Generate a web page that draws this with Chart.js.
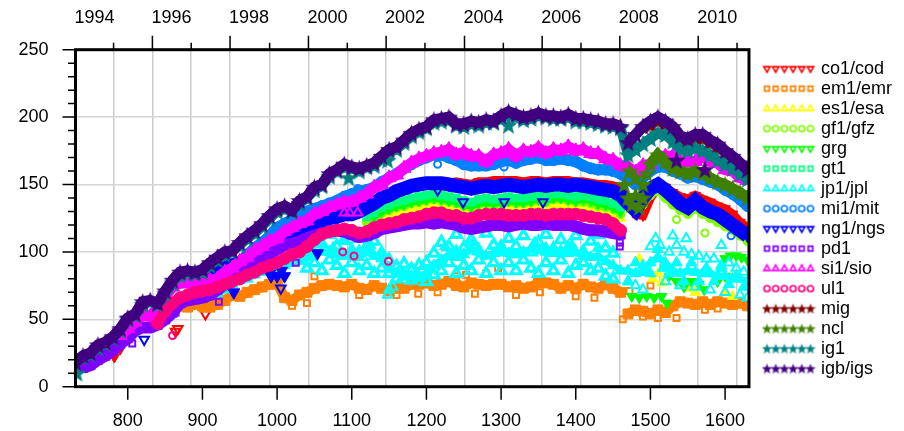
<!DOCTYPE html>
<html>
<head>
<meta charset="utf-8">
<style>
  html, body { margin: 0; padding: 0; background: #fff; }
  canvas { display: block; }
</style>
<script src="https://cdn.jsdelivr.net/npm/chart.js@4/dist/chart.umd.js"></script>
</head>
<body>
<canvas id="chart" width="904" height="431"></canvas>
<script>
// GPS weeks the bands are read at
const weeks = [
  730,740,750,760,770,780,790,800,810,820,
  830,840,850,860,870,880,890,900,910,920,
  930,940,950,960,970,980,990,1000,1010,1020,
  1030,1040,1050,1060,1070,1080,1090,1100,1110,1120,
  1130,1140,1150,1160,1170,1180,1190,1200,1210,1220,
  1230,1240,1250,1260,1270,1280,1290,1300,1310,1320,
  1330,1340,1350,1360,1370,1380,1390,1400,1410,1420,
  1430,1440,1450,1460,1470,1480,1490,1500,1510,1520,
  1530,1540,1550,1560,1570,1580,1590,1600,1610,1620,
  1630
];

const bottomTicks = [800, 900, 1000, 1100, 1200, 1300, 1400, 1500, 1600];
const yearWeeks = [730, 781, 833, 885, 937, 990, 1042, 1094, 1146, 1198, 1251, 1303, 1355, 1407, 1459, 1512, 1564, 1616];
const yearLabels = ["1994", "", "1996", "", "1998", "", "2000", "", "2002", "", "2004", "", "2006", "", "2008", "", "2010", ""];

// co1/cod
const co1Vals = [
  107,111,115,119,121,123,124,126,127,129,129,131,134,137,141,143,146,148,150,151,
  152,152,152,151,152,151,150,152,152,153,153,153,153,152,153,153,152,153,153,153,
  152,152,151,150,150,149,146,140,128,127,140,148,148,144,141,139,142,139,137,134,
  132,128,122,118
];
const co1Spots = [[782, 22], [790, 28]];
const co1Out = [[867, 43], [864, 41], [904, 54], [911, 60]];

// em1/emr
const em1Vals = [
  60,59,61,60,59,61,64,68,67,70,72,74,76,77,66,64,68,70,73,75,
  76,75,74,76,73,72,75,73,71,73,73,76,76,77,75,76,78,75,74,77,
  76,75,76,76,74,75,73,74,77,77,76,73,75,73,76,74,73,76,73,70
];
const em1Late = [54,57,56,54,57,55,60,63,62,61,63,61,63,62,61,62,60];
const em1Out = [
  [1296, 88], [1253, 83], [1189, 69], [1110, 68], [1352, 70], [1472, 71], [1500, 75], [1463, 50], [1490, 52], [1510, 51],
  [1535, 51], [1573, 57], [1590, 58], [1020, 60], [1040, 62], [900, 58], [1280, 84], [1240, 82], [1320, 68], [1400, 67],
  [1050, 82], [1160, 68], [1215, 70], [1265, 69], [1425, 66]
];

// es1/esa
const es1Vals = [
  121,125,127,129,130,132,133,134,135,134,133,133,130,130,132,133,132,132,133,132,
  133,134,134,133,135,135,133,132,132,131,130,129,128,125
];
const es1Spots = [[1485, 95], [1497, 86], [1503, 80], [1510, 84], [1515, 77], [1553, 73], [1560, 70], [1600, 70], [1610, 67]];

// gf1/gfz
const gf1Vals = [
  122,125,129,131,133,134,136,137,138,139,138,137,136,134,133,135,136,135,136,137,
  136,136,137,138,137,139,139,138,137,137,136,134,133,132,128
];
const gf1Late = [135,142,145,140,135,131,128,132,128,125,122,119,116,112,108];
const gf1Out = [[1535, 124], [1573, 114]];

// grg
const grgVals = [
  126,130,132,134,135,137,138,139,140,139,138,137,135,134,136,137,136,137,138,137,
  137,138,139,138,140,140,139,138,139,138,136,135,133,130
];
const grgSpots = [
  [1475, 67], [1485, 66], [1495, 67], [1505, 66], [1515, 67], [1522, 62],
  [1525, 82], [1535, 78], [1545, 74], [1555, 78], [1565, 76], [1572, 72],
  [1590, 78], [1600, 82], [1600, 95], [1607, 97], [1615, 97], [1622, 96], [1630, 94]
];

// gt1
const gt1Vals = [
  126,129,133,135,137,138,140,141,142,143,142,141,140,138,137,139,140,139,140,141,
  140,140,141,142,141,143,143,142,141,142,141,139,138,136,133
];

// jp1/jpl
const jp1Vals = [
  64,65,66,67,69,72,76,79,80,83,85,87,88,90,92,93,96,99,100,100,
  98,97,98,96,100,97,95,88,84,83,82,82,84,90,94,98,96,98,102,100,
  97,99,102,99,98,100,102,101,100,99,101,99,100,97,96,97,93,90,86,86,
  84,85,92,96,92,86,84,86,85,84,84,82,82,80,80,78
];
const jp1High = [
  103,112,106,113,104,109,101,110,104,108,99,94,89,91,87,90,92,99,107,104,
  113,103,109,101,114,105,100,110,104,112,100,107,113,102,109,103,112,100,108,113,
  103,99
];
const jp1Low = [
  88,92,86,94,90,84,92,86,90,84,88,84,80,82,79,81,78,83,86,92,
  84,90,86,94,84,92,86,92,86,94,88,84,92,86,94,84,90,92,86,88,
  82,80
];
const jp1Spots = [
  [1060, 106], [1075, 103], [1090, 108], [1110, 101], [1125, 105], [1140, 99], [1225, 104], [1240, 101],
  [1262, 107], [1300, 105], [1345, 107], [1360, 103], [1395, 105], [1430, 103],
  [1470, 78], [1480, 92], [1490, 90], [1500, 84], [1510, 102], [1517, 88], [1525, 84], [1535, 92], [1545, 78],
  [1555, 92], [1565, 78], [1575, 88], [1585, 78], [1595, 88], [1605, 76], [1615, 82], [1625, 74]
];
const jp1Out = [
  [1150, 72], [1148, 68], [1155, 74], [1470, 78], [1480, 75], [1490, 72], [1500, 104], [1507, 110], [1513, 105],
  [1520, 78], [1525, 100], [1530, 112], [1535, 105], [1540, 75], [1545, 100], [1548, 110], [1555, 98], [1560, 74],
  [1565, 97], [1575, 95], [1580, 72], [1585, 95], [1595, 90], [1595, 105], [1600, 70], [1605, 92], [1615, 88],
  [1620, 68], [1625, 85], [1630, 66]
];

// mi1/mit
const mi1Vals = [
  85,92,98,103,107,112,118,121,124,128,130,132,134,136,138,141,143,145,146,148,
  152,155,158,162,165,168,170,172,172,170,168,165,164,164,164,165,167,168,166,168,
  169,170,168,168,169,168,167,164,162,161,161,160,158,154,150,155,160,163,163,160,
  158,155,156,154,152,150,146,143,139,134
];
const mi1Out = [[1108, 147], [1061, 135], [1215, 165], [1304, 163], [1340, 170], [1374, 170], [1608, 112]];

// ng1/ngs
const ng1Vals = [
  78,79,80,81,82,85,88,90,92,95,97,100,103,106,110,114,118,120,122,123,
  125,126,128,128,130,133,136,140,142,145,147,149,150,151,151,151,150,149,148,147,
  148,149,148,149,150,149,148,149,150,149,150,150,149,150,149,148,147,146,145,142,
  136,131,140,147,150,146,141,136,133,138,133,130,128,124,120,116,112
];
const ng1Spots = [[942, 70], [990, 84], [992, 82], [1000, 82], [1006, 86], [1010, 82], [1054, 99]];
const ng1Out = [[822, 35], [1005, 73], [1249, 137], [1304, 137], [1356, 137], [1215, 146]];

// pd1
const pd1Vals = [
  14,16,20,23,27,32,36,42,44,44,46,50,55,62,64,65,66,68,72,76,
  80,84,87,90,95,98,102,105,106,108,110,112,114,115,116,115,113,111,112,114,
  117,118,119,120,121,121,122,121,122,121,120,118,117,118,119,120,120,119,120,121,
  120,120,121,120,120,120,119,117,116,116,115,114,113
];
const pd1Out = [[1459, 107], [1459, 104], [806, 32], [922, 63], [864, 55], [1025, 92]];

// si1/sio
const si1Vals = [
  38,43,48,54,52,58,67,74,77,77,75,76,79,80,85,88,93,96,101,104,
  108,110,115,118,121,123,128,130,133,135,137,137,140,143,148,150,155,157,162,166,
  169,171,173,174,176,172,174,171,171,167,172,173,176,171,175,174,177,173,176,175,
  178,175,176,173,173,169,168,164,163,159,164,165,171,171,171,167,167,167,171,167,
  166,161,160,155,153
];
const si1Out = [[1474, 176], [1090, 129], [1097, 129], [1108, 129]];

// ul1
const ul1Vals = [
  47,56,62,66,68,70,71,72,74,76,78,80,83,85,88,90,92,95,98,100,
  104,109,113,115,116,117,116,114,115,118,120,121,122,124,125,126,128,129,129,127,
  127,125,125,127,128,128,128,127,127,127,128,128,127,128,128,128,128,127,126,125,
  124,121,116
];
const ul1Out = [[860, 38], [1088, 100], [1103, 97], [1149, 93]];

// mig
const migVals = [194,197,195,190,184,181,185,184,181,177,173,168,164,159];

// ncl
const nclVals = [165,172,167,162,160,158,160,158,155,152,150,147,144,140];
const nclSpots = [[1465, 150], [1470, 140], [1475, 135], [1480, 155], [1480, 142], [1485, 133], [1490, 150], [1490, 140], [1495, 158], [1472, 160]];

// ig1
const ig1Vals = [
  17,22,24,29,32,36,42,50,53,61,63,61,69,77,83,84,84,85,90,94,
  98,100,105,110,114,119,125,130,132,130,136,140,146,149,156,160,163,162,160,163,
  164,169,174,176,181,186,189,192,196,197,198,194,193,195,194,196,196,199,202,200,
  198,199,201,200,199,199,200,197,197,196,195,194,193,192,172,176,180,184,188,187,
  182,176,175,177,175,172,168,165,162,158,154
];
const ig1Spots = [[732, 10], [1096, 155], [1148, 168], [1310, 194]];

// igb/igs
const igbVals = [
  18,23,25,31,33,37,43,51,54,63,64,62,71,79,85,86,85,87,92,96,
  100,101,107,112,116,121,127,132,134,131,138,141,148,150,158,161,165,163,162,164,
  166,171,176,178,183,188,191,193,198,199,200,195,195,197,196,198,197,201,204,202,
  200,201,203,201,201,200,202,199,199,198,197,195,195,193
];
const igbLate = [181,187,193,197,200,197,193,186,184,187,187,183,180,175,171,166,161];
const igbSpots = [[1535, 168], [1573, 161]];

const FONT = "'Liberation Sans', Helvetica, Arial, sans-serif";

// label, colour, marker, rotation, radius, line width, runs [first week, values], filled spots, hollow outliers
const seriesTable = [
  ["co1/cod", "#ff0000", "triangle", 180, 6, 9, [[1000, co1Vals]], co1Spots, co1Out],
  ["em1/emr", "#ff8000", "rect", 0, 7, 10, [[870, em1Vals], [1470, em1Late]], [], em1Out],
  ["es1/esa", "#ffff00", "triangle", 0, 6, 7, [[1130, es1Vals]], es1Spots, []],
  ["gf1/gfz", "#80ff00", "circle", 0, 4.5, 7, [[1120, gf1Vals], [1490, gf1Late]], [], gf1Out],
  ["grg", "#00ff00", "triangle", 180, 6, 7, [[1130, grgVals]], grgSpots, []],
  ["gt1", "#00ff80", "rect", 0, 5.5, 7, [[1120, gt1Vals]], [], []],
  ["jp1/jpl", "#00ffff", "triangle", 0, 6.5, 7, [[880, jp1Vals]], jp1Spots, jp1Out],
  ["mi1/mit", "#0080ff", "circle", 0, 5.5, 11, [[940, mi1Vals]], [], mi1Out],
  ["ng1/ngs", "#0000ff", "triangle", 180, 7, 14, [[870, ng1Vals]], ng1Spots, ng1Out],
  ["pd1", "#8000ff", "rect", 0, 6.5, 12, [[740, pd1Vals]], [], pd1Out],
  ["si1/sio", "#ff00ff", "triangle", 0, 8, 11, [[790, si1Vals]], [], si1Out],
  ["ul1", "#ff0080", "circle", 0, 6, 11, [[840, ul1Vals]], [], ul1Out],
  ["mig", "#800000", "star", 0, 7, 8, [[1500, migVals]], [], []],
  ["ncl", "#408000", "star", 0, 7, 11, [[1500, nclVals]], nclSpots, []],
  ["ig1", "#008080", "star", 0, 7, 10, [[730, ig1Vals]], ig1Spots, []],
  ["igb/igs", "#400080", "star", 0, 7, 11, [[730, igbVals], [1470, igbLate]], igbSpots, []]
];

function fromWeek(first, vals) {
  const start = weeks.indexOf(first);
  return vals.map((y, i) => ({ x: weeks[start + i], y }));
}

function fromPairs(pairs) {
  return pairs.map(p => ({ x: p[0], y: p[1] }));
}

function makeStar(color, size) {
  const c = document.createElement("canvas");
  c.width = size;
  c.height = size;
  const g = c.getContext("2d");
  g.fillStyle = color;
  g.beginPath();
  for (let i = 0; i < 10; i++) {
    const r = (i % 2 ? 0.42 : 1) * size / 2;
    const a = -Math.PI / 2 + i * Math.PI / 5;
    g.lineTo(size / 2 + r * Math.cos(a), size / 2 + r * Math.sin(a) + size * 0.04);
  }
  g.closePath();
  g.fill();
  return c;
}

// the legend key is a row of six markers
function makeKey(row) {
  const c = document.createElement("canvas");
  c.width = 72;
  c.height = 14;
  const g = c.getContext("2d");
  const [, color, shape, rot] = row;
  for (let i = 0; i < 6; i++) {
    const cx = 21.5 + i * 8.7;
    if (shape === "star") {
      g.drawImage(makeStar(color, 11), cx - 5.5, 1.5);
    } else {
      g.strokeStyle = color;
      g.fillStyle = "rgba(0,0,0,0)";
      g.lineWidth = 1.7;
      const radius = shape === "circle" ? 3 : shape === "rect" ? 3.3 : 3.6;
      Chart.helpers.drawPoint(g, { pointStyle: shape, rotation: rot, radius, borderWidth: 1.7 }, cx, 7);
    }
  }
  return c;
}

const datasets = [];
seriesTable.forEach((row, idx) => {
  const [label, color, shape, rot, radius, lineW, runs, spots, outs] = row;
  const marker = shape === "star" ? makeStar(color, 19) : shape;
  const base = { label, borderColor: color, pointBorderColor: color, pointStyle: marker, pointRotation: rot,
                 pointRadius: radius, clip: 0, order: 100 - idx, tension: 0 };
  runs.forEach(r => {
    datasets.push({ ...base, data: fromWeek(r[0], r[1]), borderWidth: lineW, showLine: true,
                    pointBackgroundColor: color, pointBorderWidth: 1 });
  });
  if (spots.length) {
    datasets.push({ ...base, data: fromPairs(spots), showLine: false, pointBackgroundColor: color, pointBorderWidth: 1 });
  }
  if (label === "jp1/jpl") {
    datasets.push({ ...base, data: fromWeek(1040, jp1High), showLine: false, pointBackgroundColor: "rgba(0,0,0,0)", pointBorderWidth: 3.2, pointRadius: 6 });
    datasets.push({ ...base, data: fromWeek(1040, jp1Low), showLine: false, pointBackgroundColor: "rgba(0,0,0,0)", pointBorderWidth: 3.2, pointRadius: 6 });
  }
  if (outs.length) {
    datasets.push({ ...base, data: fromPairs(outs), showLine: false, pointBackgroundColor: "rgba(0,0,0,0)", pointBorderWidth: 2,
                    pointRadius: shape === "circle" ? 3.5 : shape === "rect" ? 4.2 : 5.5 });
  }
});

// frame and tick marks of the plot box
const frameTicks = {
  id: "frameTicks",
  afterDraw(chart) {
    const { ctx, chartArea: a, scales } = chart;
    ctx.save();
    ctx.strokeStyle = "#000";
    ctx.lineWidth = 1.5;
    ctx.beginPath();
    for (let v = 0; v <= 250; v += 10) {
      const y = scales.y.getPixelForValue(v);
      ctx.moveTo(a.left - (v % 50 === 0 ? 13 : 7.5), y);
      ctx.lineTo(a.left, y);
    }
    bottomTicks.forEach(v => {
      const x = scales.x.getPixelForValue(v);
      ctx.moveTo(x, a.bottom);
      ctx.lineTo(x, a.bottom + 13);
    });
    yearWeeks.forEach((v, i) => {
      if (i === 0) return;
      const x = scales.x2.getPixelForValue(v);
      ctx.moveTo(x, a.top);
      ctx.lineTo(x, a.top - (i % 2 === 0 ? 14 : 7));
    });
    ctx.stroke();
    ctx.lineWidth = 3;
    ctx.strokeRect(a.left, a.top, a.right - a.left, a.bottom - a.top);
    ctx.restore();
  }
};

new Chart(document.getElementById("chart"), {
  type: "line",
  data: { datasets },
  plugins: [frameTicks],
  options: {
    responsive: false,
    animation: false,
    layout: { padding: { right: 2 } },
    plugins: {
      tooltip: { enabled: false },
      legend: {
        position: "right",
        align: "center",
        title: { display: true, text: " ", font: { size: 1 }, padding: 2.5 },
        labels: {
          usePointStyle: true,
          pointStyleWidth: 61,
          padding: 2,
          color: "#000",
          font: { family: FONT, size: 18 },
          generateLabels: () => seriesTable.map(row => ({
            text: row[0],
            pointStyle: makeKey(row),
            fontColor: "#000",
            hidden: false,
            lineWidth: 0
          }))
        }
      }
    },
    scales: {
      x: {
        type: "linear",
        min: 730,
        max: 1632,
        position: "bottom",
        afterBuildTicks: s => { s.ticks = bottomTicks.map(value => ({ value })); },
        afterFit: s => { s.height = 44.3; },
        grid: { display: false, drawTicks: false },
        border: { display: false },
        ticks: {
          color: "#000",
          font: { family: FONT, size: 18 },
          padding: 24,
          maxRotation: 0,
          autoSkip: false,
          callback: v => String(v)
        }
      },
      x2: {
        type: "linear",
        min: 730,
        max: 1632,
        position: "top",
        afterBuildTicks: s => { s.ticks = yearWeeks.map(value => ({ value })); },
        afterFit: s => { s.height = 49.7; },
        grid: { color: "#cccccc", lineWidth: 1.5, drawTicks: false },
        border: { display: false },
        ticks: {
          color: "#000",
          font: { family: FONT, size: 18 },
          padding: 21,
          labelOffset: 19,
          maxRotation: 0,
          autoSkip: false,
          callback: (v, i) => yearLabels[i]
        }
      },
      y: {
        min: 0,
        max: 250,
        afterFit: s => { s.width = 75.5; },
        grid: {
          color: c => (c.tick.value % 50 === 0 ? "#d6d6d6" : "rgba(0,0,0,0)"),
          lineWidth: 1.5,
          drawTicks: false
        },
        border: { display: false },
        ticks: {
          stepSize: 10,
          color: "#000",
          padding: 27,
          autoSkip: false,
          font: { family: FONT, size: 18 },
          callback: v => (v % 50 === 0 ? String(v) : "")
        }
      }
    }
  }
});
</script>
</body>
</html>
